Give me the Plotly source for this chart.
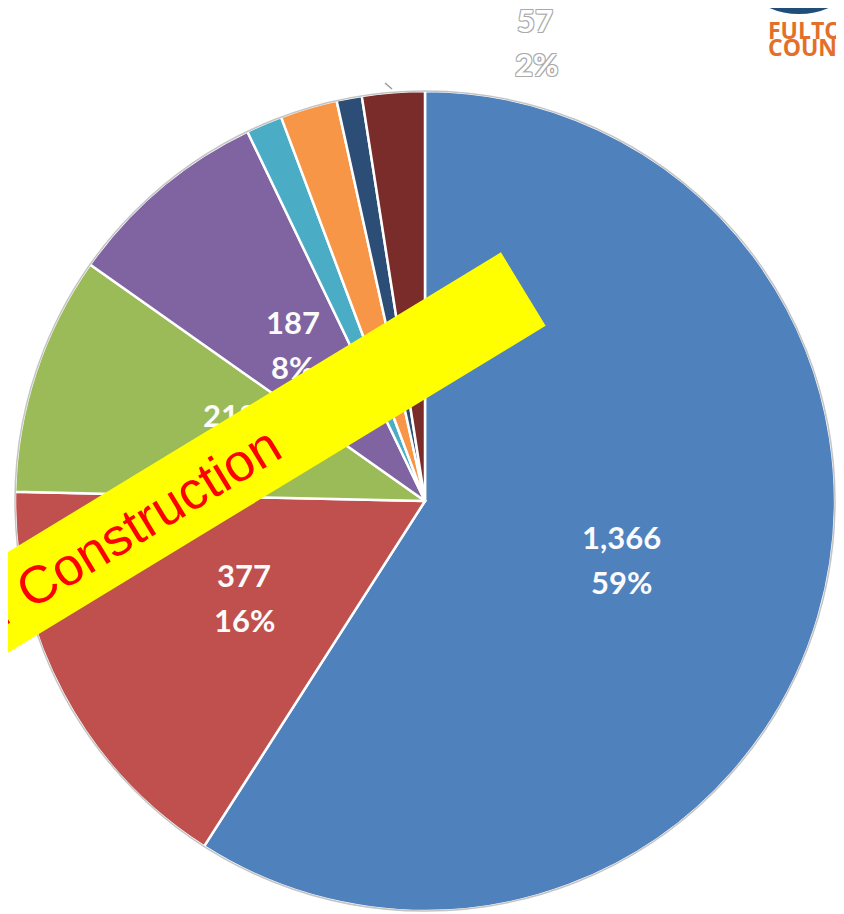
import math
import plotly.graph_objects as go

# ---- data ----
categories = ["Cat A", "Cat B", "Cat C", "Cat D", "Cat E", "Cat F", "Cat G", "Cat H"]
values = [1366, 377, 218, 187, 33, 52, 23, 57]
colors = ["#4F81BD", "#C0504D", "#9BBB59", "#8064A2", "#4BACC6", "#F79646", "#2C4D75", "#7A2C2A"]
show_label = [True, True, True, True, False, False, False, False]
outside_label_index = 7
banner_text = "Under Construction"
logo_text = ["FULTON", "COUNTY"]

W, H = 844, 914
OFF = 8  # page body margin offset


def px(X):
    return (X - OFF) / W


def py(Y):
    return 1 - (Y - OFF) / H


total = sum(values)

# pie geometry (page pixels)
CX, CY, R = 425, 501, 410

fig = go.Figure(go.Pie(
    labels=categories,
    values=values,
    textinfo="none",
    sort=False,
    direction="clockwise",
    rotation=0,
    marker=dict(colors=colors, line=dict(color="white", width=2.5)),
    domain=dict(x=[px(CX - R), px(CX + R)], y=[py(CY + R), py(CY - R)]),
    showlegend=False,
    hoverinfo="label+value+percent",
))

annotations = []
lab_font = dict(family="Lato", size=31, color="#FBFBFB", weight="bold")
cum = 0
for i, (v, s) in enumerate(zip(values, show_label)):
    mid = 2 * math.pi * (cum + v / 2) / total
    cum += v
    if not s:
        continue
    X = CX + 0.5 * R * math.sin(mid)
    Y = CY - 0.5 * R * math.cos(mid)
    annotations.append(dict(text=f"{v:,}", x=px(X), y=py(Y - 22), xref="paper", yref="paper",
                            showarrow=False, font=lab_font, xanchor="center", yanchor="middle"))
    annotations.append(dict(text=f"{round(100 * v / total)}%", x=px(X), y=py(Y + 23), xref="paper",
                            yref="paper", showarrow=False, font=lab_font, xanchor="center",
                            yanchor="middle"))

ov = values[outside_label_index]
out_font = dict(family="Lato", size=31, color="white", weight="bold",
                shadow="-1px -1px 0 #aaaaaa, 1px -1px 0 #aaaaaa, -1px 1px 0 #aaaaaa, 1px 1px 0 #aaaaaa")
logo_font = dict(family="Open Sans", size=23, color="#E2702A", weight="bold")
annotations += [
    dict(text=f"{ov}", x=px(535), y=py(20), xref="paper", yref="paper",
         showarrow=False, font=out_font, xanchor="center", yanchor="middle"),
    dict(text=f"{round(100 * ov / total)}%", x=px(536), y=py(64), xref="paper", yref="paper",
         showarrow=False, font=out_font, xanchor="center", yanchor="middle"),
    dict(text=logo_text[0], x=px(766), y=py(30), xref="paper", yref="paper",
         showarrow=False, xanchor="left", yanchor="middle", font=logo_font),
    dict(text=logo_text[1], x=px(766), y=py(47), xref="paper", yref="paper",
         showarrow=False, xanchor="left", yanchor="middle", font=logo_font),
    dict(text=banner_text, x=px(80), y=py(558), xref="paper", yref="paper",
         showarrow=False, xanchor="center", yanchor="middle", textangle=-31.3,
         bgcolor="#FFFF00", width=1034, height=83,
         font=dict(family="Liberation Sans", size=53, color="#FF0000")),
]

shapes = [
    dict(type="circle", xref="paper", yref="paper",
         x0=px(CX - R), x1=px(CX + R), y0=py(CY + R), y1=py(CY - R),
         line=dict(color="#c4c4c4", width=1.5), layer="above"),
    dict(type="line", xref="paper", yref="paper",
         x0=px(385), y0=py(83), x1=px(392), y1=py(89),
         line=dict(color="#9a9a9a", width=1.5)),
    dict(type="circle", xref="paper", yref="paper",
         x0=px(728), x1=px(870), y0=py(12), y1=py(-130),
         fillcolor="#1F4E79", line=dict(color="#1F4E79", width=4)),
    dict(type="circle", xref="paper", yref="paper",
         x0=px(736), x1=px(862), y0=py(4), y1=py(-122),
         line=dict(color="white", width=2.5)),
]

fig.update_layout(
    width=W, height=H,
    margin=dict(l=0, r=0, t=0, b=0),
    paper_bgcolor="white",
    plot_bgcolor="white",
    annotations=annotations,
    shapes=shapes,
)

fig.write_html("out.html")
